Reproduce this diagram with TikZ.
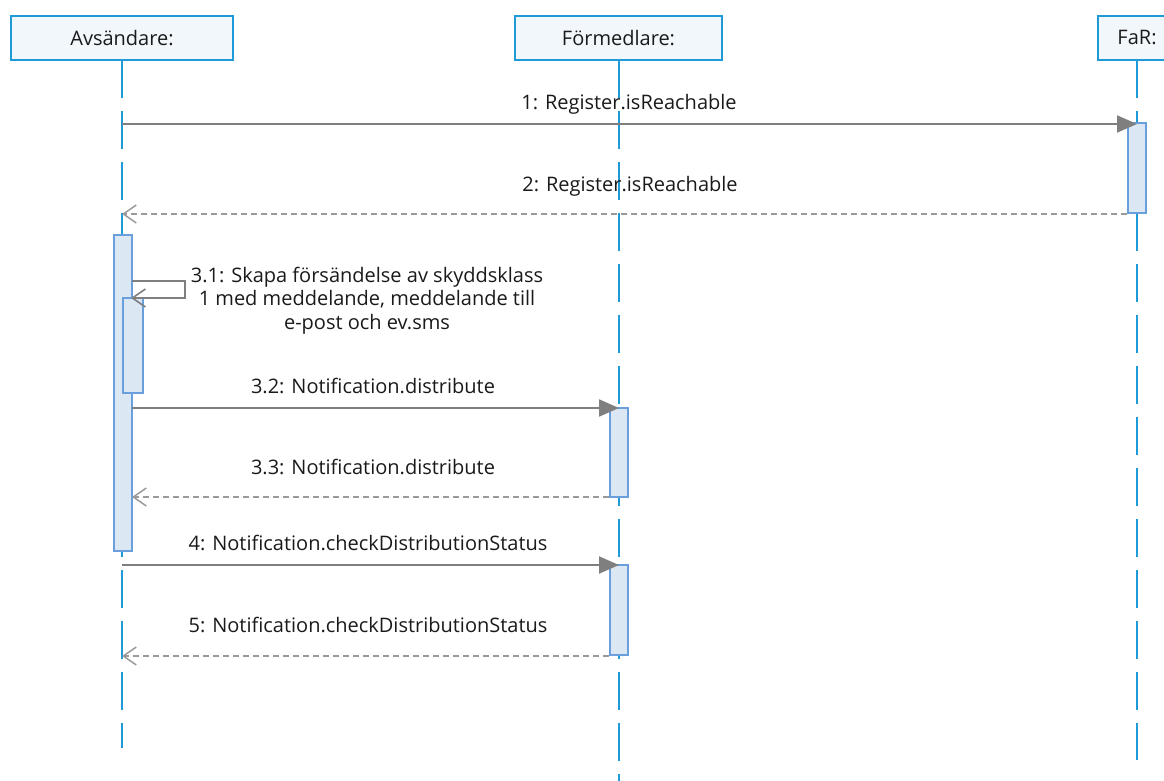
\documentclass[tikz,border=0pt]{standalone}
\usepackage{fontspec}
\setmainfont{Open Sans}
\usetikzlibrary{arrows.meta}

\definecolor{lifeblue}{HTML}{1E9BD7}
\definecolor{headfill}{HTML}{F2F7FC}
\definecolor{actfill}{HTML}{DCE7F4}
\definecolor{actline}{HTML}{6A9FDE}
\definecolor{msggray}{HTML}{7F7F7F}
\definecolor{retgray}{HTML}{9A9A9A}
\definecolor{txt}{HTML}{1A1A1A}

\tikzset{
  header/.style={draw=lifeblue, fill=headfill, line width=1.5pt,
    minimum height=44pt, inner sep=0pt, text=txt,
    font=\fontsize{20}{24}\selectfont},
  lifeline/.style={draw=lifeblue, line width=1.5pt, dash pattern=on 38pt off 13pt},
  activation/.style={draw=actline, fill=actfill, line width=1.2pt,
    minimum width=18pt, inner sep=0pt},
  callmsg/.style={draw=msggray, line width=2pt,
    -{Triangle[length=20pt,width=17pt]}},
  selfmsg/.style={draw=msggray, line width=1.8pt,
    -{Straight Barb[length=13pt,width=18pt,line width=1.6pt]}},
  retmsg/.style={draw=retgray, line width=1.5pt, dash pattern=on 6pt off 4pt,
    -{Straight Barb[length=13pt,width=18pt,line width=1.5pt,sep=0pt]}},
  msglabel/.style={anchor=base, inner sep=0pt, text=txt,
    font=\fontsize{20}{23.5}\selectfont, align=center}
}

\begin{document}
\begin{tikzpicture}[x=1pt,y=-1pt]
  \useasboundingbox (0,0) rectangle (1164,781);
  \clip (0,0) rectangle (1164,781);

  % lifelines
  \coordinate (avsTop) at (122,60);
  \coordinate (avsEnd) at (122,748);
  \coordinate (fmTop) at (619,60);
  \coordinate (fmEnd) at (619,781);
  \coordinate (farTop) at (1137,60);
  \coordinate (farEnd) at (1137,760);
  \draw[lifeline] (avsTop) -- (avsEnd);
  \draw[lifeline] (fmTop) -- (fmEnd);
  \draw[lifeline] (farTop) -- (farEnd);

  % participants
  \node[header, minimum width=222pt] (avs) at (122,38) {Avsändare:};
  \node[header, minimum width=207pt] (fm) at (618.5,38) {Förmedlare:};
  \node[header, minimum width=78pt] (far) at (1137,38) {FaR:};

  % activation bars
  \node[activation, minimum height=90pt] (farA) at (1137,168) {};
  \node[activation, minimum height=316pt] (avsA) at (123,393) {};
  \node[activation, minimum width=20pt, minimum height=95pt] (avsB) at (133,345.5) {};
  \node[activation, minimum height=89pt] (fmA) at (619,452.5) {};
  \node[activation, minimum height=90pt] (fmB) at (619,610) {};

  % points where messages leave or reach a lifeline
  \coordinate (m1) at (122,124);
  \coordinate (m2) at (122,214);
  \coordinate (s1) at (132,281);
  \coordinate (s2) at (185,281);
  \coordinate (s3) at (185,298);
  \coordinate (s4) at (131,298);
  \coordinate (m32) at (132,408);
  \coordinate (m33) at (132,497);
  \coordinate (m4) at (122,565);
  \coordinate (m5) at (122,656);

  % messages
  \draw[callmsg] (m1) -- (farA.north |- m1);
  \draw[retmsg] (m2 -| farA.west) -- (m2);
  \draw[selfmsg] (s1) -- (s2) -- (s3) -- (s4);
  \draw[callmsg] (m32) -- (fmA.north |- m32);
  \draw[retmsg] (m33 -| fmA.west) -- (m33);
  \draw[callmsg] (m4) -- (fmB.north |- m4);
  \draw[retmsg] (m5 -| fmB.west) -- (m5);

  % message labels
  \node[msglabel] (l1) at (629,110) {1: Register.isReachable};
  \node[msglabel] (l2) at (630,191) {2: Register.isReachable};
  \node[msglabel, anchor=north] (l31) at (367,266.5) {3.1: Skapa försändelse av skyddsklass\\1 med meddelande, meddelande till\\e-post och ev.sms};
  \node[msglabel] (l32) at (373,393) {3.2: Notification.distribute};
  \node[msglabel] (l33) at (373,474) {3.3: Notification.distribute};
  \node[msglabel] (l4) at (368,550) {4: Notification.checkDistributionStatus};
  \node[msglabel] (l5) at (368,632) {5: Notification.checkDistributionStatus};
\end{tikzpicture}
\end{document}
